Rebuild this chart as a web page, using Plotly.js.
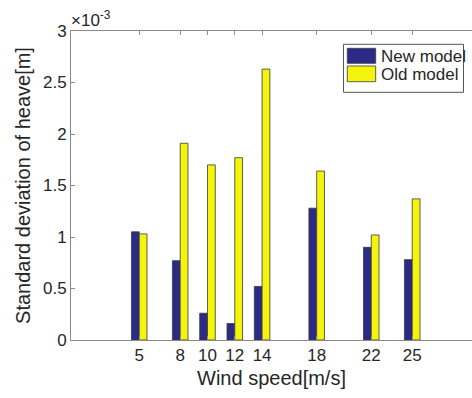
<!DOCTYPE html>
<html>
<head>
<meta charset="utf-8">
<script src="https://cdn.plot.ly/plotly-3.0.1.min.js"></script>
<style>
  html, body { margin: 0; padding: 0; overflow: hidden; background: #fff; }
  #chart { width: 472px; height: 398px; }
</style>
</head>
<body>
<div id="chart"></div>
<script>
// Wind speeds (m/s)
const windSpeeds = [5, 8, 10, 12, 14, 18, 22, 25];
// Standard deviation of heave, in units of 1e-3 m
const newModel = [1.05, 0.77, 0.26, 0.16, 0.52, 1.28, 0.90, 0.78];
const oldModel = [1.03, 1.91, 1.70, 1.77, 2.63, 1.64, 1.02, 1.37];
const seriesNames = ['New model', 'Old model'];
const yTicks = [0, 0.5, 1, 1.5, 2, 2.5, 3];
const yTickText = ['0', '0.5', '1', '1.5', '2', '2.5', '3'];

const navy = '#2c2a87';
const yellow = '#f4f40c';
const edge = '#3a3a3a';
const textColor = '#262626';
const axisColor = '#8a8a8a';

const traces = [
  { type: 'bar', x: windSpeeds, y: newModel, name: seriesNames[0],
    marker: { color: navy, line: { color: edge, width: 0.8 } }, showlegend: false },
  { type: 'bar', x: windSpeeds, y: oldModel, name: seriesNames[1],
    marker: { color: yellow, line: { color: edge, width: 0.8 } }, showlegend: false }
];

const font = { family: 'Arial, "Liberation Sans", Helvetica, sans-serif', color: textColor };

// plot area: x 71..472 px (401 px), y 31..340 px (309 px)
const lx0 = (343.5 - 71) / 401, lx1 = (463.5 - 71) / 401;
const ly0 = (340 - 92.3) / 309, ly1 = (340 - 44.3) / 309;
const sx0 = (347.3 - 71) / 401, sx1 = (375.7 - 71) / 401;
const tx = (379 - 71) / 401;
const shapes = [
  { type: 'rect', xref: 'paper', yref: 'paper', x0: lx0, x1: lx1, y0: ly0, y1: ly1,
    line: { color: '#555', width: 1 }, fillcolor: '#fff' },
  { type: 'rect', xref: 'paper', yref: 'paper', x0: sx0, x1: sx1,
    y0: (340 - 63.3) / 309, y1: (340 - 48.3) / 309,
    line: { color: edge, width: 0.8 }, fillcolor: navy },
  { type: 'rect', xref: 'paper', yref: 'paper', x0: sx0, x1: sx1,
    y0: (340 - 81.7) / 309, y1: (340 - 66) / 309,
    line: { color: edge, width: 0.8 }, fillcolor: yellow }
];

const annotations = [
  { xref: 'paper', yref: 'paper', x: tx, y: (340 - 56) / 309, xanchor: 'left', yanchor: 'middle',
    height: 17, text: seriesNames[0], showarrow: false, font: Object.assign({ size: 17 }, font) },
  { xref: 'paper', yref: 'paper', x: tx, y: (340 - 74) / 309, xanchor: 'left', yanchor: 'middle',
    height: 17, text: seriesNames[1], showarrow: false, font: Object.assign({ size: 17 }, font) },
  { xref: 'paper', yref: 'paper', x: 0.0, y: 1.0, xanchor: 'left', yanchor: 'bottom',
    text: '×10<sup>-3</sup>', showarrow: false, font: Object.assign({ size: 17 }, font),
    xshift: -2, yshift: -1 }
];

const layout = {
  width: 472, height: 398,
  margin: { l: 71, r: 0, t: 31, b: 58 },
  paper_bgcolor: '#fff', plot_bgcolor: '#fff',
  barmode: 'group', bargap: 0.43, bargroupgap: 0,
  font: Object.assign({ size: 17 }, font),
  showlegend: false,
  xaxis: {
    range: [0, 29.38], tickvals: windSpeeds, ticktext: windSpeeds.map(String),
    ticks: 'inside', ticklen: 4, tickcolor: axisColor, tickwidth: 1,
    showline: true, linecolor: axisColor, linewidth: 1, mirror: 'ticks',
    showgrid: false, zeroline: false,
    tickfont: Object.assign({ size: 17 }, font),
    title: { text: 'Wind speed[m/s]', font: Object.assign({ size: 20 }, font), standoff: 6 }
  },
  yaxis: {
    range: [0, 3], tickvals: yTicks, ticktext: yTickText,
    ticks: 'inside', ticklen: 4, tickcolor: axisColor, tickwidth: 1,
    showline: true, linecolor: axisColor, linewidth: 1, mirror: false,
    showgrid: false, zeroline: false,
    tickfont: Object.assign({ size: 17 }, font),
    title: { text: 'Standard deviation of heave[m]', font: Object.assign({ size: 20 }, font), standoff: 6 }
  },
  shapes: shapes,
  annotations: annotations
};

Plotly.newPlot('chart', traces, layout, { displayModeBar: false, staticPlot: true });
</script>
</body>
</html>
